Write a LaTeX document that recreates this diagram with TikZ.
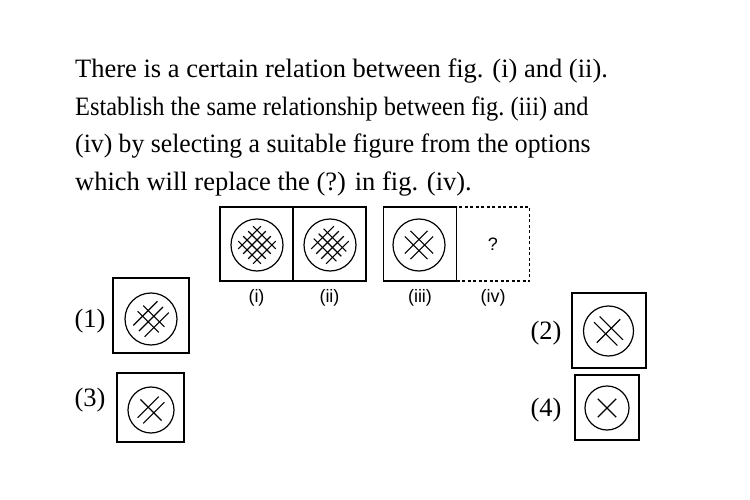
\documentclass[tikz,border=0pt]{standalone}
\usepackage{fontspec}
\setmainfont{Liberation Serif}
\newfontfamily\labelfont{Liberation Sans}
\usetikzlibrary{positioning}

\begin{document}
\begin{tikzpicture}[x=1pt,y=-1pt,
    fig/.style={draw,line width=1.4pt,minimum width=73pt,minimum height=74pt,inner sep=0pt,outer sep=0pt},
    ring/.style={draw,circle,line width=1.2pt,minimum size=52pt,inner sep=0pt},
    hatch/.style={line width=1.15pt},
    tag/.style={font=\labelfont\fontsize{18}{20}\selectfont},
    txt/.style={font=\fontsize{26.5}{30}\selectfont,inner sep=0pt}]
  \useasboundingbox (0,0) rectangle (750,500);
  % question text
  \node[txt,anchor=base west] (q1) at (75,78) {There is a certain relation between fig. (i) and (ii).};
  \node[txt,anchor=base west] (q2) at (75,115.5) {\scalebox{0.92}[1]{Establish the same relationship between fig.\ (iii) and}};
  \node[txt,anchor=base west] (q3) at (75,153) {\scalebox{0.97}[1]{(iv) by selecting a suitable figure from the options}};
  \node[txt,anchor=base west] (q4) at (75,190.5) {which will replace the (?) in fig. (iv).};
  % problem figures
  \node[fig] (f1) at (256.5,244) {};
  \node[fig,right=0pt of f1] (f2) {};
  \node[fig,line width=1.2pt,dash pattern=on 3pt off 2.5pt] (f4) at (493,244) {};
  \node[fig] (f3) at (420,244) {};
  \node[tag] (qm) at (f4.center) {?};
  \node[tag,below=5pt of f1] (t1) {(i)};
  \node[tag,below=5pt of f2] (t2) {(ii)};
  \node[tag,below=5pt of f3] (t3) {(iii)};
  \node[tag,below=5pt of f4] (t4) {(iv)};
  \node[ring] (c1) at (257,245) {};
  \node[ring] (c2) at (330,245) {};
  \node[ring] (c3) at (419,245) {};
  \begin{scope}[shift={(c1)},rotate=45]
    \draw[hatch] (-16,-10.5) -- (16,-10.5);
    \draw[hatch] (-16,-3.5) -- (16,-3.5);
    \draw[hatch] (-16,3.5) -- (16,3.5);
    \draw[hatch] (-16,10.5) -- (16,10.5);
    \draw[hatch] (-10.5,-16) -- (-10.5,16);
    \draw[hatch] (-3.5,-16) -- (-3.5,16);
    \draw[hatch] (3.5,-16) -- (3.5,16);
    \draw[hatch] (10.5,-16) -- (10.5,16);
  \end{scope}
  \begin{scope}[shift={(c2)},rotate=45]
    \draw[hatch] (-16,-10.5) -- (16,-10.5);
    \draw[hatch] (-16,-3.5) -- (16,-3.5);
    \draw[hatch] (-16,3.5) -- (16,3.5);
    \draw[hatch] (-16,10.5) -- (16,10.5);
    \draw[hatch] (-7,-16) -- (-7,16);
    \draw[hatch] (0,-16) -- (0,16);
    \draw[hatch] (7,-16) -- (7,16);
  \end{scope}
  \begin{scope}[shift={(c3)},rotate=45]
    \draw[hatch] (-16,-4) -- (16,-4);
    \draw[hatch] (-16,4) -- (16,4);
    \draw[hatch] (-4,-16) -- (-4,16);
    \draw[hatch] (4,-16) -- (4,16);
  \end{scope}
  % answer figures
  \node[txt] (l1) at (90,321) {(1)};
  \node[txt] (l2) at (546,333) {(2)};
  \node[txt] (l3) at (90,400) {(3)};
  \node[txt] (l4) at (546,410) {(4)};
  \node[fig,minimum width=76pt,minimum height=75pt] (o1) at (151,315.5) {};
  \node[fig,minimum width=74pt,minimum height=75pt] (o2) at (609,330.5) {};
  \node[fig,minimum width=67pt,minimum height=69pt] (o3) at (150.5,407.5) {};
  \node[fig,minimum width=64pt,minimum height=65pt] (o4) at (607,407.5) {};
  \node[ring] (r1) at (151,319) {};
  \node[ring,minimum size=50pt] (r2) at (608.5,331) {};
  \node[ring,minimum size=46pt] (r3) at (151,410) {};
  \node[ring,minimum size=44pt] (r4) at (607,408) {};
  \begin{scope}[shift={(r1)},rotate=45]
    \draw[hatch] (-17,-8) -- (17,-8);
    \draw[hatch] (-17,0) -- (17,0);
    \draw[hatch] (-17,8) -- (17,8);
    \draw[hatch] (-4,-15) -- (-4,15);
    \draw[hatch] (4,-15) -- (4,15);
  \end{scope}
  \begin{scope}[shift={(r2)},rotate=45]
    \draw[hatch] (-16.5,0) -- (16.5,0);
    \draw[hatch] (-4,-16.5) -- (-4,16.5);
    \draw[hatch] (4,-16.5) -- (4,16.5);
  \end{scope}
  \begin{scope}[shift={(r3)},rotate=45]
    \draw[hatch] (-15,-4) -- (15,-4);
    \draw[hatch] (-15,4) -- (15,4);
    \draw[hatch] (0,-15) -- (0,15);
  \end{scope}
  \begin{scope}[shift={(r4)},rotate=45]
    \draw[hatch] (-13,0) -- (13,0);
    \draw[hatch] (0,-13) -- (0,13);
  \end{scope}
\end{tikzpicture}
\end{document}
